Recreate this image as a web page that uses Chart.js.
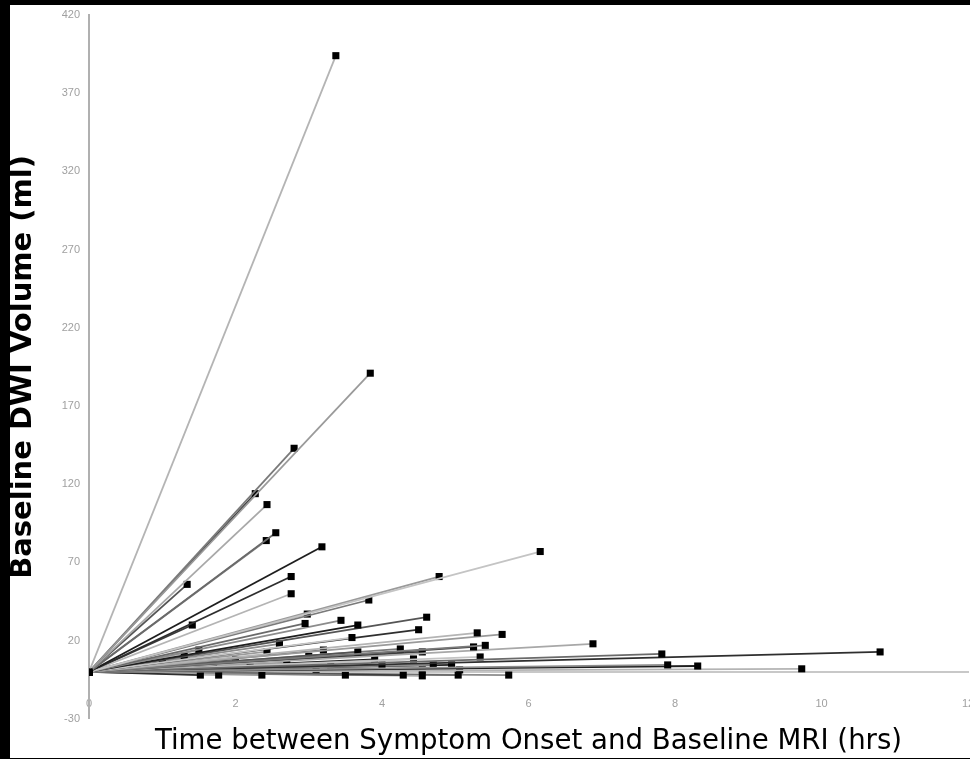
<!DOCTYPE html>
<html>
<head>
<meta charset="utf-8">
<script src="https://cdn.jsdelivr.net/npm/chart.js@4/dist/chart.umd.min.js"></script>
<style>
  html, body { margin: 0; padding: 0; background: #000; width: 970px; height: 759px; overflow: hidden; }
  #wrap { position: absolute; left: 10px; top: 5px; width: 960px; height: 753px; background: #fff; overflow: hidden; }
  canvas { display: block; }
</style>
</head>
<body>
<div id="wrap"><canvas id="c" width="980" height="753"></canvas></div>
<script>
// Onset point (time 0, volume 0) shared by every patient line
const onsetTime = 0;
const onsetVolume = 0;

// Time between symptom onset and baseline MRI (hrs), one per patient
const times = [
  3.37, 3.84, 2.80, 2.27, 2.43, 2.55, 2.42, 3.18, 6.16, 1.34,
  2.76, 2.76, 4.78, 3.82, 1.41, 2.98, 2.95, 3.44, 3.67, 3.59,
  4.61, 4.50, 5.30, 5.64, 5.41, 5.25, 6.88, 7.82, 7.90, 8.31,
  5.34, 3.67, 10.80, 9.73, 2.43, 4.25, 4.55, 4.43, 4.00, 4.70,
  4.95, 5.06, 4.55, 1.52, 1.77, 2.36, 3.50, 4.29, 4.55, 5.04,
  5.73, 1.00, 1.30, 1.70, 2.00, 2.20, 2.70, 3.00, 3.30, 1.50,
  3.20, 2.60, 3.90, 3.10, 1.20
];
// Baseline DWI volume (ml), one per patient
const volumes = [
  394, 191, 143, 114, 107, 89, 84, 80, 77, 56,
  61, 50, 61, 46, 30, 37, 31, 33, 30, 22,
  35, 27, 25, 24, 17, 16, 18, 11.5, 4.5, 3.8,
  9.6, 12.8, 12.8, 2, 13, 14.7, 12.8, 8.3, 4.5, 4.5,
  4.5, 1.3, 1.3, -2, -2, -2, -2, -2, -2.5, -2,
  -2, 6, 10, 4, 8, 3, 6, 10, 4, 14,
  14, 18, 8, 1, 2
];

// Axis tick labels
const xTicks = [0, 2, 4, 6, 8, 10, 12];
const yTicks = [-30, 20, 70, 120, 170, 220, 270, 320, 370, 420];

// Grey shades cycled through the patient lines
const shades = ['#b4b4b4', '#9a9a9a', '#7a7a7a', '#3c3c3c', '#a8a8a8', '#6a6a6a', '#8c8c8c', '#1e1e1e', '#c4c4c4', '#555555', '#2e2e2e'];

const TICKFONT = '"Liberation Sans", Arial, sans-serif';
const TITLEFONT = '"DejaVu Sans", "Liberation Sans", sans-serif';

const datasets = times.map((t, i) => ({
  data: [{ x: onsetTime, y: onsetVolume }, { x: t, y: volumes[i] }],
  borderColor: shades[i % shades.length],
  borderWidth: 1.8,
  pointStyle: 'rect',
  pointRadius: 5,
  pointBackgroundColor: '#000',
  pointBorderColor: '#000',
  pointBorderWidth: 0,
  showLine: true,
  fill: false,
  tension: 0
}));

new Chart(document.getElementById('c'), {
  type: 'scatter',
  data: { datasets },
  options: {
    responsive: false,
    animation: false,
    devicePixelRatio: 1,
    layout: { padding: { left: 0, right: 22, top: 10, bottom: 0 } },
    plugins: {
      legend: { display: false },
      tooltip: { enabled: false },
      title: {
        display: true,
        position: 'bottom',
        fullSize: false,
        text: 'Time between Symptom Onset and Baseline MRI (hrs)',
        color: '#000',
        font: { family: TITLEFONT, size: 27.6, weight: 'normal', lineHeight: 1.2 },
        padding: { top: 6, bottom: 0 }
      }
    },
    scales: {
      x: {
        type: 'linear',
        position: { y: 0 },
        min: 0,
        max: 12,
        afterBuildTicks: s => { s.ticks = xTicks.map(v => ({ value: v })); },
        afterFit: s => { s.height = 5; },
        grid: { display: false, drawTicks: true, tickLength: 25, tickColor: 'rgba(0,0,0,0)' },
        border: { display: true, color: '#c8c8c8', width: 2 },
        ticks: { color: '#a0a0a0', font: { family: TICKFONT, size: 11 }, padding: 0, maxRotation: 0 }
      },
      y: {
        type: 'linear',
        position: 'left',
        min: -30,
        max: 420,
        afterBuildTicks: s => { s.ticks = yTicks.map(v => ({ value: v })); },
        afterFit: s => { s.width = 79; },
        grid: { display: false, drawTicks: true, tickLength: 9, tickColor: 'rgba(0,0,0,0)' },
        border: { display: true, color: '#b0b0b0', width: 2 },
        ticks: { color: '#a0a0a0', font: { family: TICKFONT, size: 11 }, padding: 0 },
        title: {
          display: true,
          text: 'Baseline DWI Volume (ml)',
          color: '#000',
          font: { family: TITLEFONT, size: 29, weight: 'bold', lineHeight: 0.9 },
          padding: 0
        }
      }
    }
  }
});
</script>
</body>
</html>
